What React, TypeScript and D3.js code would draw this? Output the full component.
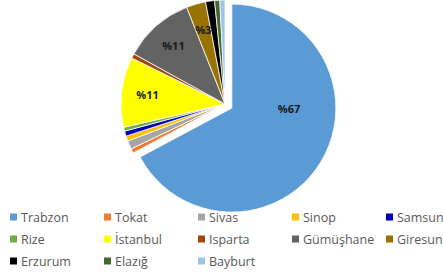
import * as d3 from 'd3';

const cities = ['Trabzon', 'Tokat', 'Sivas', 'Sinop', 'Samsun', 'Rize', 'İstanbul', 'Isparta', 'Gümüşhane', 'Giresun', 'Erzurum', 'Elazığ', 'Bayburt'];
const shares = [67.2, 0.7, 1.3, 0.8, 0.8, 0.6, 10.9, 0.7, 11.0, 3.0, 1.4, 0.8, 0.8];
const colors = ['#5b9bd5', '#ed7d31', '#a5a5a5', '#ffc000', '#0000b8', '#70ad47', '#ffff00', '#9e480e', '#636363', '#997300', '#000000', '#43682b', '#9dc3e6'];

const W = 443;
const H = 276;

type Slice = { city: string; value: number; color: string };

export default function App() {
  const data: Slice[] = cities.map((c, i) => ({ city: c, value: shares[i], color: colors[i] }));

  const cx = 225;
  const cy = 104;
  const r = 104;
  const explode = 8;

  const pie = d3.pie<Slice>().value((d) => d.value).sort(null).startAngle(0).endAngle(2 * Math.PI);
  const arcs = pie(data);
  const arc = d3.arc<d3.PieArcDatum<Slice>>().innerRadius(0).outerRadius(r);

  // legend grid: 5 columns, 3 rows
  const colX = d3.scaleLinear().domain([0, 1]).range([10, 104]);
  const rowY = d3.scaleLinear().domain([0, 1]).range([217, 239]);

  return (
    <svg width={W} height={H} style={{ position: 'absolute', left: 0, top: 0, background: '#fff' }}>
      <g transform={`translate(${cx},${cy})`}>
        {arcs.map((a, i) => {
          const mid = (a.startAngle + a.endAngle) / 2;
          const off = i === 0 ? explode : 0;
          const dx = Math.sin(mid) * off;
          const dy = -Math.cos(mid) * off;
          return (
            <path key={a.data.city} d={arc(a) ?? ''} fill={a.data.color} stroke="#fff" strokeWidth={0.8}
              transform={`translate(${dx},${dy})`} />
          );
        })}
        {arcs.map((a, i) => {
          if (a.data.value < 3) return null;
          // wide slices: excel pulls the label toward the start of the slice
          const half = (a.endAngle - a.startAngle) / 2;
          const ang = a.startAngle + Math.min(half, Math.PI / 2);
          const mid = (a.startAngle + a.endAngle) / 2;
          const off = i === 0 ? explode : 0;
          const k = half > Math.PI / 2 ? 0.55 : 0.75;
          const x = Math.sin(mid) * off + Math.sin(ang) * r * k;
          const y = -Math.cos(mid) * off - Math.cos(ang) * r * k;
          return (
            <text key={a.data.city} x={x} y={y} textAnchor="middle" dominantBaseline="central"
              fontFamily="'Open Sans', sans-serif" fontWeight="bold" fontSize={11} fill="#1a1a1a">
              %{Math.round(a.data.value)}
            </text>
          );
        })}
      </g>
      <g fontFamily="'Open Sans', sans-serif" fontSize={12.5} fill="#595959">
        {data.map((d, i) => {
          const x = colX(i % 5);
          const y = rowY(Math.floor(i / 5));
          return (
            <g key={d.city} transform={`translate(${x},${y})`}>
              <rect x={0} y={-3.5} width={7} height={7} fill={d.color} />
              <text x={11} y={0} dominantBaseline="central">{d.city}</text>
            </g>
          );
        })}
      </g>
    </svg>
  );
}
